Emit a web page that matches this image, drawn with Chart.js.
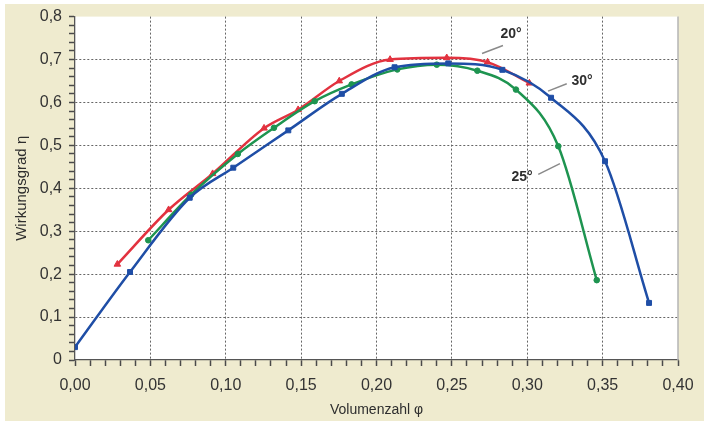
<!DOCTYPE html>
<html>
<head>
<meta charset="utf-8">
<script src="https://cdn.jsdelivr.net/npm/chart.js@4.4.1/dist/chart.umd.min.js"></script>
<style>
  html, body { margin: 0; padding: 0; background: #ffffff; }
  #wrap { width: 704px; height: 425px; }
</style>
</head>
<body>
<div id="wrap"><canvas id="c" width="704" height="425"></canvas></div>
<script>
// ---- Data ----
const series20X = [0.0281, 0.0621, 0.0913, 0.1254, 0.148, 0.1753, 0.209, 0.2466, 0.2737, 0.3014];
const series20Y = [0.223, 0.350, 0.434, 0.540, 0.583, 0.650, 0.700, 0.704, 0.694, 0.645];

const series25X = [0.0486, 0.077, 0.108, 0.132, 0.159, 0.1835, 0.2138, 0.240, 0.2669, 0.2925, 0.3206, 0.3461];
const series25Y = [0.279, 0.385, 0.480, 0.541, 0.603, 0.642, 0.677, 0.688, 0.674, 0.630, 0.498, 0.186];

const series30X = [0.000, 0.0365, 0.0761, 0.105, 0.1415, 0.177, 0.212, 0.2476, 0.2835, 0.3158, 0.3516, 0.3808];
const series30Y = [0.030, 0.205, 0.378, 0.448, 0.535, 0.620, 0.682, 0.691, 0.676, 0.611, 0.463, 0.133];

const seriesNames = ['20°', '25°', '30°'];

const xTickLabels = ['0,00', '0,05', '0,10', '0,15', '0,20', '0,25', '0,30', '0,35', '0,40'];
const yTickLabels = ['0', '0,1', '0,2', '0,3', '0,4', '0,5', '0,6', '0,7', '0,8'];

// annotation labels (data coordinates): text position, leader line start/end
const labelText = ['20°', '30°', '25°'];
const labelX = [0.2892, 0.3363, 0.2965];
const labelY = [0.7581, 0.6488, 0.4256];
const leaderX1 = [0.2700, 0.3138, 0.3073];
const leaderY1 = [0.7140, 0.6263, 0.4326];
const leaderX2 = [0.2839, 0.3262, 0.3217];
const leaderY2 = [0.7326, 0.6435, 0.4574];

// ---- Build chart ----
const zip = (xs, ys) => xs.map((x, i) => ({ x: x, y: ys[i] }));
const RED = '#e2323f', GREEN = '#1e9450', BLUE = '#1f4ea6';
const FONT = '"Liberation Sans", Arial, sans-serif';

function ds(label, xs, ys, color, style, r) {
  return {
    label: label, data: zip(xs, ys), showLine: true,
    borderColor: color, backgroundColor: color, borderWidth: 2.5,
    pointStyle: style, pointRadius: r, pointBorderWidth: 1, pointBorderColor: color,
    cubicInterpolationMode: 'monotone', fill: false
  };
}

const bgPlugin = {
  id: 'bg',
  beforeDraw(chart) {
    const c = chart.ctx, a = chart.chartArea;
    c.save();
    c.fillStyle = '#ffffff';
    c.fillRect(0, 0, chart.width, chart.height);
    c.fillStyle = '#efebcf';
    c.fillRect(5, 4, chart.width - 5, chart.height - 8);
    c.fillStyle = '#ffffff';
    c.fillRect(a.left, a.top, a.right - a.left, a.bottom - a.top);
    c.restore();
  },
  beforeDatasetsDraw(chart) {
    const c = chart.ctx, a = chart.chartArea;
    c.save();
    c.strokeStyle = '#b4b4b4';
    c.lineWidth = 1.5;
    c.beginPath();
    c.moveTo(a.right, a.top);
    c.lineTo(a.right, a.bottom);
    c.stroke();
    c.restore();
  },
  afterDatasetsDraw(chart) {
    const c = chart.ctx, xs = chart.scales.x, ys = chart.scales.y;
    c.save();
    c.strokeStyle = '#8a8a8a';
    c.lineWidth = 1.5;
    for (let i = 0; i < labelText.length; i++) {
      c.beginPath();
      c.moveTo(xs.getPixelForValue(leaderX1[i]), ys.getPixelForValue(leaderY1[i]));
      c.lineTo(xs.getPixelForValue(leaderX2[i]), ys.getPixelForValue(leaderY2[i]));
      c.stroke();
    }
    c.fillStyle = '#2e2e2e';
    c.font = 'bold 14px ' + FONT;
    c.textAlign = 'center';
    c.textBaseline = 'middle';
    for (let i = 0; i < labelText.length; i++) {
      c.fillText(labelText[i], xs.getPixelForValue(labelX[i]), ys.getPixelForValue(labelY[i]));
    }
    c.restore();
  }
};

const isMajor = (v, step) => Math.abs(Math.round(v / step) * step - v) < 1e-6;

new Chart(document.getElementById('c'), {
  type: 'scatter',
  data: {
    datasets: [
      ds(seriesNames[2], series30X, series30Y, BLUE, 'rect', 3.5),
      ds(seriesNames[1], series25X, series25Y, GREEN, 'circle', 2.8),
      ds(seriesNames[0], series20X, series20Y, RED, 'triangle', 3.8)
    ]
  },
  options: {
    responsive: false,
    animation: false,
    layout: { padding: { left: 0, right: 26, top: 16, bottom: 0 } },
    plugins: { legend: { display: false }, tooltip: { enabled: false } },
    scales: {
      x: {
        type: 'linear', min: 0, max: 0.4,
        afterFit: s => { s.height = 65; },
        afterBuildTicks: s => {
          const t = [];
          for (let i = 0; i <= 40; i++) t.push({ value: i / 100 });
          s.ticks = t;
        },
        ticks: {
          autoSkip: false, maxRotation: 0, padding: 10,
          color: '#333333', font: { family: FONT, size: 16 },
          callback: v => isMajor(v, 0.05) ? xTickLabels[Math.round(v / 0.05)] : ''
        },
        grid: {
          color: c => {
            const v = c.tick ? c.tick.value : 0;
            if (!isMajor(v, 0.05) || v < 1e-6 || v > 0.399) return 'rgba(0,0,0,0)';
            return '#666666';
          },
          lineWidth: 1, tickLength: 6, tickColor: '#4a4a4a', tickWidth: 1.5
        },
        border: { color: '#555555', width: 1.3, dash: [2, 2] },
        title: { display: true, text: 'Volumenzahl φ', color: '#2e2e2e',
                 font: { family: FONT, size: 14 }, padding: { top: 0, bottom: 6 } }
      },
      y: {
        type: 'linear', min: 0, max: 0.8,
        afterFit: s => { s.width = 75; },
        afterBuildTicks: s => {
          const t = [];
          for (let i = 0; i <= 40; i++) t.push({ value: i / 50 });
          s.ticks = t;
        },
        ticks: {
          autoSkip: false, padding: 7,
          color: '#333333', font: { family: FONT, size: 16 },
          callback: v => isMajor(v, 0.1) ? yTickLabels[Math.round(v / 0.1)] : ''
        },
        grid: {
          color: c => {
            const v = c.tick ? c.tick.value : 0;
            if (!isMajor(v, 0.1) || v < 1e-6 || v > 0.799) return 'rgba(0,0,0,0)';
            return '#666666';
          },
          lineWidth: 1, tickLength: 6, tickColor: '#4a4a4a', tickWidth: 1.5
        },
        border: { color: '#555555', width: 1.3, dash: [2, 2] },
        title: { display: true, text: 'Wirkungsgrad η', color: '#2e2e2e',
                 font: { family: FONT, size: 15 }, padding: { top: 13, bottom: 0 } }
      }
    }
  },
  plugins: [bgPlugin]
});
</script>
</body>
</html>
